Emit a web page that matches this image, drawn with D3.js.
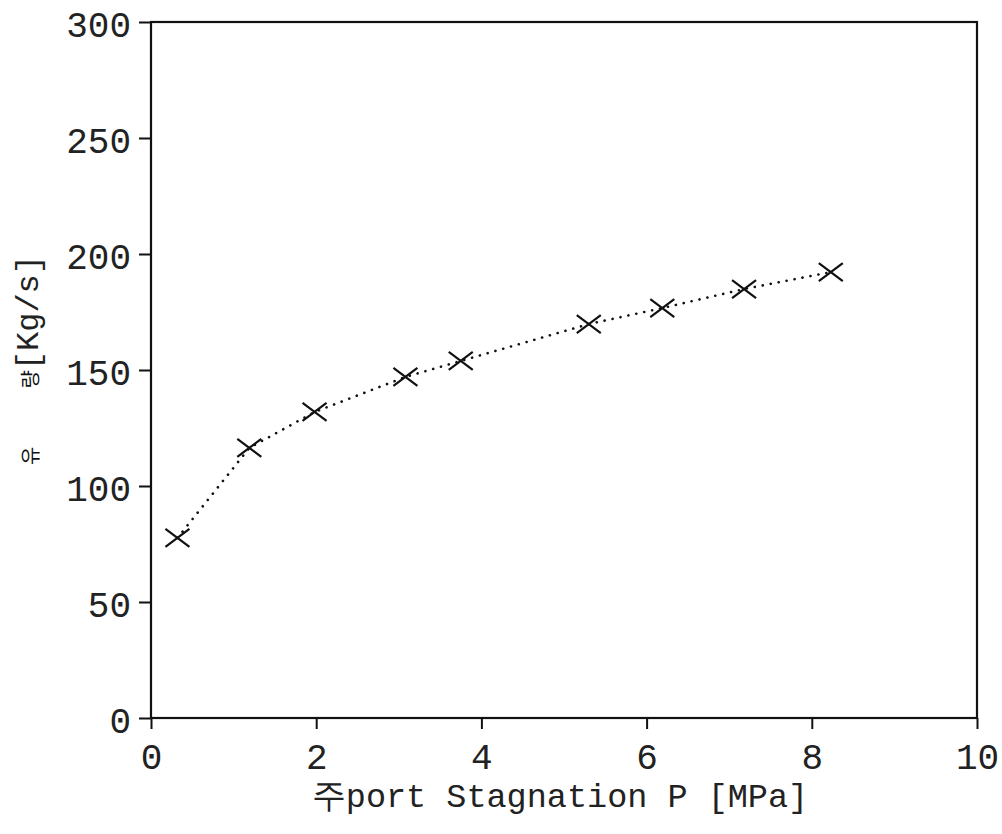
<!DOCTYPE html>
<html>
<head>
<meta charset="utf-8">
<script src="https://cdn.jsdelivr.net/npm/d3@7"></script>
<style>
	body { margin: 0; background: #fff; }
	text { font-family: "Liberation Mono", "DejaVu Sans Mono", monospace; fill: #111; }
</style>
</head>
<body>
<div id="chart"></div>
<script>
// data
const pressure = [0.32, 1.19, 1.98, 3.08, 3.75, 5.30, 6.19, 7.18, 8.23];
const flowRate = [77.6, 116.4, 131.9, 147.0, 153.9, 169.8, 176.7, 184.9, 192.2];
const xTicks = [0, 2, 4, 6, 8, 10];
const yTicks = [0, 50, 100, 150, 200, 250, 300];

const width = 1002;
const height = 834;
const margin = { top: 22, right: 25, bottom: 116, left: 151 };
const chartW = width - margin.left - margin.right;
const chartH = height - margin.top - margin.bottom;

const svg = d3.select("#chart").append("svg")
	.attr("width", width)
	.attr("height", height);

const chart = svg.append("g")
	.attr("transform", "translate(" + margin.left + "," + margin.top + ")");

const xScale = d3.scaleLinear().domain([0, 10]).range([0, chartW]);
const yScale = d3.scaleLinear().domain([0, 300]).range([chartH, 0]);

// frame
chart.append("rect")
	.attr("width", chartW)
	.attr("height", chartH)
	.style("fill", "none")
	.style("stroke", "#111")
	.style("stroke-width", 2.2);

// axes
let xAxis = d3.axisBottom(xScale).tickValues(xTicks).tickSize(11).tickPadding(14).tickFormat(d3.format("d"));
let yAxis = d3.axisLeft(yScale).tickValues(yTicks).tickSize(12).tickPadding(8).tickFormat(d3.format("d"));

let gx = chart.append("g").attr("transform", "translate(0," + chartH + ")").call(xAxis);
let gy = chart.append("g").call(yAxis);

[gx, gy].forEach(function(g) {
	g.select(".domain").remove();
	g.selectAll(".tick line").style("stroke", "#111").style("stroke-width", 2);
	g.selectAll(".tick text").style("font-size", "36px").style("font-family", "Liberation Mono, monospace").style("fill", "#222");
});
gx.selectAll(".tick text").attr("dy", "0.72em");
gy.selectAll(".tick text").attr("dy", "0.4em");

// dotted connecting line
let points = pressure.map(function(p, i) { return { x: p, y: flowRate[i] }; });

let line = d3.line()
	.x(function(d) { return xScale(d.x); })
	.y(function(d) { return yScale(d.y); });

chart.append("path")
	.datum(points)
	.attr("d", line)
	.style("fill", "none")
	.style("stroke", "#111")
	.style("stroke-width", 2.6)
	.style("stroke-linecap", "round")
	.style("stroke-dasharray", "0.1,8");

// x markers
let s = 12, t = 9;
chart.selectAll(".marker")
	.data(points)
	.enter().append("path")
	.attr("class", "marker")
	.attr("transform", function(d) { return "translate(" + xScale(d.x) + "," + yScale(d.y) + ")"; })
	.attr("d", "M" + -s + "," + -t + "Q0,0 " + s + "," + t + "M" + s + "," + -t + "Q0,0 " + -s + "," + t)
	.style("fill", "none")
	.style("stroke", "#111")
	.style("stroke-width", 2.2);

// axis titles
svg.append("text")
	.attr("x", 560)
	.attr("y", 807)
	.attr("text-anchor", "middle")
	.style("font-size", "33.5px")
	.style("fill", "#222")
	.text("주port Stagnation P [MPa]");

let yTitle = svg.append("text")
	.attr("transform", "translate(38,360) rotate(-90)")
	.attr("text-anchor", "middle");
yTitle.append("tspan").style("font-size", "20px").style("font-family", "Noto Sans CJK KR").text("유");
yTitle.append("tspan").style("font-size", "20px").attr("dx", 58).style("font-family", "Noto Sans CJK KR").text("량");
yTitle.append("tspan").style("font-size", "32px").style("fill", "#222").text("[Kg/s]");
</script>
</body>
</html>
